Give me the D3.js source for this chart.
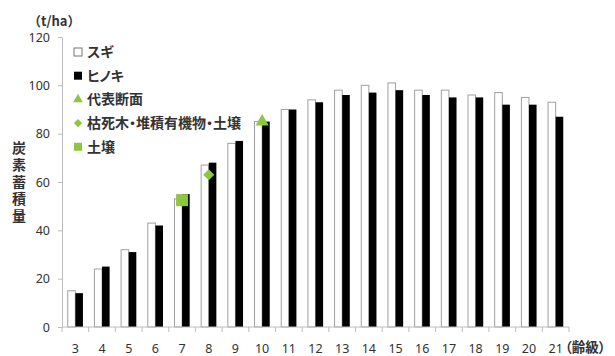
<!DOCTYPE html>
<html>
<head>
<meta charset="utf-8">
<script src="https://cdn.jsdelivr.net/npm/d3@7"></script>
<style>
  html, body { margin: 0; padding: 0; background: #fff; }
  svg { display: block; }
  text { font-family: "Noto Sans CJK JP", "Noto Sans", sans-serif; fill: #333; }
</style>
</head>
<body>
<svg id="chart" width="615" height="356"></svg>
<script>
// 齢級ごとの炭素蓄積量 (t/ha)
const ageClasses = [3, 4, 5, 6, 7, 8, 9, 10, 11, 12, 13, 14, 15, 16, 17, 18, 19, 20, 21];
const sugi   = [15, 24, 32, 43, 53, 67, 76, 85, 90, 94, 98, 100, 101, 98, 98, 96, 97, 95, 93];
const hinoki = [14, 25, 31, 42, 55, 68, 77, 85, 90, 93, 96, 97, 98, 96, 95, 95, 92, 92, 87];
const yTicks = [0, 20, 40, 60, 80, 100, 120];

// 調査区分ごとの代表値
const soilPoint     = { age: 7,  value: 52.5 };  // 土壌
const deadwoodPoint = { age: 8,  value: 63 };    // 枯死木・堆積有機物・土壌
const sectionPoint  = { age: 10, value: 85 };    // 代表断面

const legendItems = [
  { label: "スギ", kind: "white" },
  { label: "ヒノキ", kind: "black" },
  { label: "代表断面", kind: "triangle" },
  { label: "枯死木・堆積有機物・土壌", kind: "diamond" },
  { label: "土壌", kind: "square" }
];

const green = "#8dc63f";
const axisColor = "#bdbdbd";

const svg = d3.select("#chart");
const margin = { left: 62, right: 46, top: 37, bottom: 29 };
const W = 615, H = 356;
const plotW = W - margin.left - margin.right;
const plotH = H - margin.top - margin.bottom;

const g = svg.append("g").attr("transform", `translate(${margin.left},${margin.top})`);

const x = d3.scaleBand().domain(ageClasses).range([0, plotW]).paddingInner(0).paddingOuter(0);
const y = d3.scaleLinear().domain([0, 120]).range([plotH, 0]);

const barW = 7.6;
const cx = a => x(a) + x.bandwidth() / 2;

// 棒グラフ(スギ:白、ヒノキ:黒)
g.selectAll("rect.sugi").data(ageClasses).join("rect")
  .attr("class", "sugi")
  .attr("x", a => cx(a) - barW)
  .attr("y", (a, i) => y(sugi[i]))
  .attr("width", barW)
  .attr("height", (a, i) => y(0) - y(sugi[i]))
  .attr("fill", "#fff")
  .attr("stroke", "#a0a0a0")
  .attr("stroke-width", 1);

g.selectAll("rect.hinoki").data(ageClasses).join("rect")
  .attr("class", "hinoki")
  .attr("x", a => cx(a))
  .attr("y", (a, i) => y(hinoki[i]))
  .attr("width", barW)
  .attr("height", (a, i) => y(0) - y(hinoki[i]))
  .attr("fill", "#000");

// Y軸
const yAxis = g.append("g")
  .call(d3.axisLeft(y).tickValues(yTicks).tickSize(4).tickPadding(8));
yAxis.select(".domain").attr("stroke", axisColor);
yAxis.selectAll(".tick line").attr("stroke", axisColor);
yAxis.selectAll(".tick text")
  .style("font-size", "12.5px")
  .style("font-family", "'Noto Sans', sans-serif")
  .attr("fill", "#333");

// X軸(目盛線は区間の境界)
const xAxisG = g.append("g").attr("transform", `translate(0,${plotH})`);
xAxisG.append("line")
  .attr("x1", 0).attr("x2", plotW).attr("y1", 0).attr("y2", 0)
  .attr("stroke", axisColor);
xAxisG.selectAll("line.tk").data(ageClasses.concat([null])).join("line")
  .attr("class", "tk")
  .attr("x1", (a, i) => i * x.bandwidth())
  .attr("x2", (a, i) => i * x.bandwidth())
  .attr("y1", 0).attr("y2", 5)
  .attr("stroke", axisColor);
xAxisG.selectAll("text.lbl").data(ageClasses).join("text")
  .attr("class", "lbl")
  .attr("x", a => cx(a))
  .attr("y", 26)
  .attr("text-anchor", "middle")
  .style("font-size", "12.5px")
  .style("font-family", "'Noto Sans', sans-serif")
  .text(a => a);

// 代表値マーカー
g.append("rect")
  .attr("x", cx(soilPoint.age) - 6)
  .attr("y", y(soilPoint.value) - 6)
  .attr("width", 12).attr("height", 12)
  .attr("fill", green);

g.append("path")
  .attr("d", d3.symbol().type(d3.symbolSquare).size(62)())
  .attr("transform", `translate(${cx(deadwoodPoint.age)},${y(deadwoodPoint.value)}) rotate(45)`)
  .attr("fill", green);

g.append("path")
  .attr("d", d3.symbol().type(d3.symbolTriangle).size(75)())
  .attr("transform", `translate(${cx(sectionPoint.age)},${y(sectionPoint.value)})`)
  .attr("fill", green);

// 凡例
const legend = svg.append("g").attr("transform", "translate(78,52)");
const rowH = 23.7;
legendItems.forEach((d, i) => {
  const row = legend.append("g").attr("transform", `translate(0,${i * rowH})`);
  if (d.kind === "white") {
    row.append("rect").attr("x", -4).attr("y", -4).attr("width", 8).attr("height", 8)
      .attr("fill", "#fff").attr("stroke", "#777").attr("stroke-width", 1);
  } else if (d.kind === "black") {
    row.append("rect").attr("x", -4).attr("y", -4).attr("width", 8).attr("height", 8)
      .attr("fill", "#000");
  } else if (d.kind === "triangle") {
    row.append("path").attr("d", d3.symbol().type(d3.symbolTriangle).size(40)())
      .attr("fill", green);
  } else if (d.kind === "diamond") {
    row.append("path").attr("d", d3.symbol().type(d3.symbolSquare).size(34)())
      .attr("transform", "rotate(45)")
      .attr("fill", green);
  } else {
    row.append("rect").attr("x", -4).attr("y", -4).attr("width", 8).attr("height", 8)
      .attr("fill", green);
  }
  row.append("text")
    .attr("x", 9)
    .attr("y", 0)
    .attr("dy", "0.36em")
    .style("font-size", "14px")
    .style("font-weight", "bold")
    .style("font-feature-settings", "'palt'")
    .text(d.label);
});

// 単位・軸タイトル
svg.append("text")
  .attr("x", 28).attr("y", 26)
  .style("font-size", "13px")
  .style("font-weight", "bold")
  .text("（t/ha）");

svg.append("text")
  .attr("x", 19)
  .attr("y", 141)
  .style("writing-mode", "vertical-rl")
  .style("text-orientation", "upright")
  .style("letter-spacing", "2.8px")
  .style("font-size", "14px")
  .style("font-weight", "bold")
  .text("炭素蓄積量");

svg.append("text")
  .attr("x", 565).attr("y", 347)
  .attr("dy", "0.36em")
  .style("font-size", "13.5px")
  .style("font-weight", "bold")
  .style("font-feature-settings", "'palt'")
  .text("（齢級）");
</script>
</body>
</html>
